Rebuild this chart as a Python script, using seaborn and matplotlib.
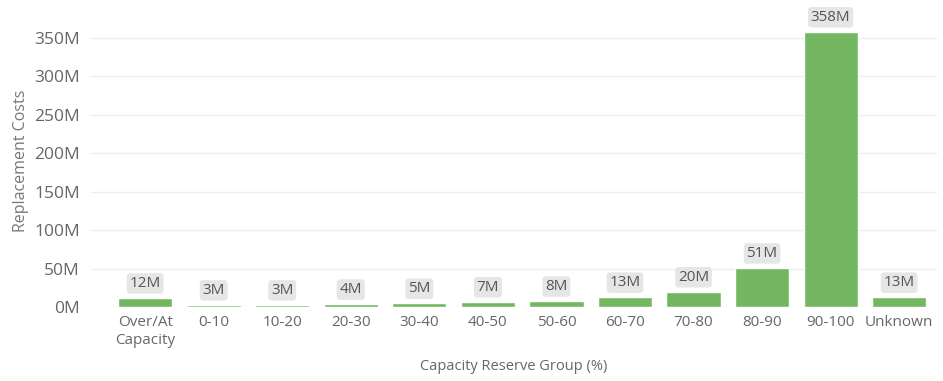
import numpy as np
import pandas as pd
import matplotlib
matplotlib.use("Agg")
import matplotlib.pyplot as plt
import seaborn as sns

groups = ['Over/At\nCapacity', '0-10', '10-20', '20-30', '30-40', '40-50',
          '50-60', '60-70', '70-80', '80-90', '90-100', 'Unknown']
costs_m = [12, 3, 3, 4, 5, 7, 8, 13, 20, 51, 358, 13]

df = pd.DataFrame({'group': groups, 'cost': costs_m})

sns.set_style('white')
plt.rcParams['font.family'] = ['Open Sans', 'DejaVu Sans']

fig = plt.figure(figsize=(9.43, 3.81), dpi=100)
ax = fig.add_axes([0.0965, 0.194, 0.897, 0.767])

sns.barplot(data=df, x='group', y='cost', color='#73b761', width=0.79,
            saturation=1, ax=ax, zorder=2)

ax.set_ylim(0, 380)
ax.set_xlim(-0.79, 11.55)
ax.set_yticks(np.arange(0, 351, 50))
ax.set_yticklabels([f'{v}M' for v in range(0, 351, 50)])
ax.yaxis.grid(True, color='#eeeeee', linewidth=1, zorder=0)
ax.set_axisbelow(True)
for s in ax.spines.values():
    s.set_visible(False)

ax.tick_params(axis='y', labelsize=12.5, colors='#666666', length=0, pad=8)
ax.tick_params(axis='x', labelsize=11, colors='#666666', length=0, pad=6)

ax.set_ylabel('Replacement Costs', fontsize=11.5, color='#777777', labelpad=4)
ax.set_xlabel('Capacity Reserve Group (%)', fontsize=10.5, color='#666666', labelpad=8)

for i, v in enumerate(costs_m):
    ax.annotate(f'{v}M', (i, v), xytext=(0, 5), textcoords='offset points',
                ha='center', va='bottom', fontsize=11, color='#555555',
                bbox=dict(boxstyle='round,pad=0.18,rounding_size=0.2',
                          fc='#e6e6e6', ec='none'))

fig.savefig('out.png', dpi=100)
